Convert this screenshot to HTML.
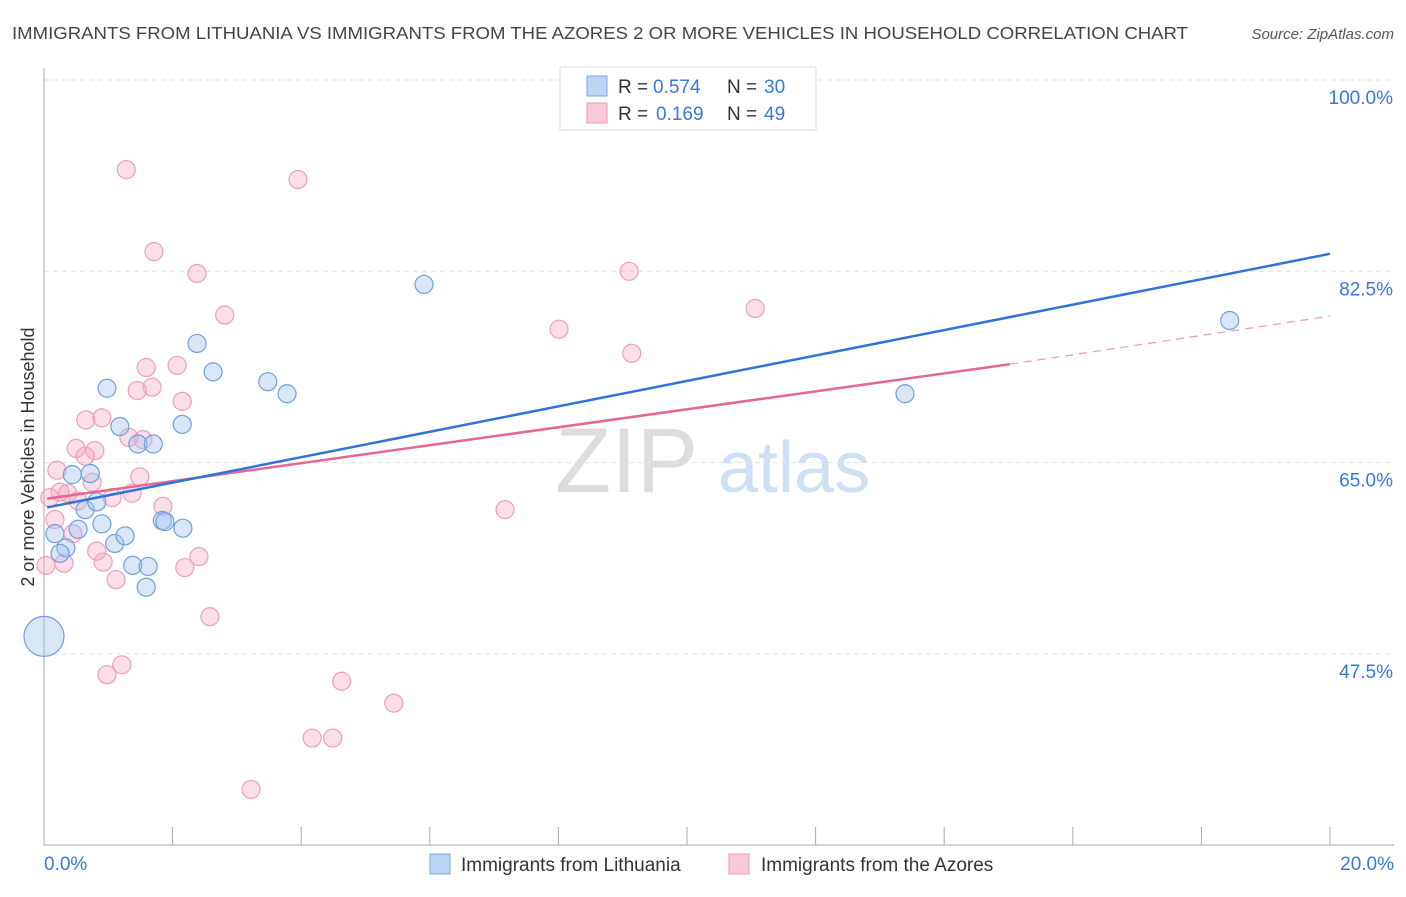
<!DOCTYPE html>
<html><head><meta charset="utf-8"><style>
body{margin:0;background:#fff;font-family:"Liberation Sans",sans-serif;}
svg text{font-family:"Liberation Sans",sans-serif;}
</style></head><body>
<svg id="chart" width="1406" height="892" xmlns="http://www.w3.org/2000/svg">
<text x="12" y="39" font-size="17.5" fill="#444" textLength="1176" lengthAdjust="spacingAndGlyphs">IMMIGRANTS FROM LITHUANIA VS IMMIGRANTS FROM THE AZORES 2 OR MORE VEHICLES IN HOUSEHOLD CORRELATION CHART</text>
<text x="1394" y="39" font-size="15" fill="#555" text-anchor="end" font-style="italic">Source: ZipAtlas.com</text>
<g>
<text x="555" y="492" font-size="92" fill="#ddd" font-family="Liberation Serif,serif">ZIP</text>
<text x="718" y="492" font-size="72" fill="#cfe0f5">atlas</text>
</g>
<g id="grid"></g>
<g id="axes"></g>
<g id="pts"></g>
<g id="trends"></g>
<text transform="translate(34,457) rotate(-90)" font-size="18" fill="#333" text-anchor="middle">2 or more Vehicles in Household</text>
<g>
<rect x="560" y="67" width="256" height="63" fill="#fff" stroke="#ddd"/>
<rect x="587" y="76" width="20" height="20" fill="#bcd5f5" stroke="#7aa8e6"/>
<rect x="587" y="103" width="20" height="20" fill="#f9c9d8" stroke="#ee9ab5"/>
<text x="618" y="93" font-size="19" fill="#333">R =</text>
<text x="653" y="93" font-size="19" fill="#3a78d6">0.574</text>
<text x="727" y="93" font-size="19" fill="#333">N =</text>
<text x="764" y="93" font-size="19" fill="#3a78d6">30</text>
<text x="618" y="120" font-size="19" fill="#333">R =</text>
<text x="656" y="120" font-size="19" fill="#3a78d6">0.169</text>
<text x="727" y="120" font-size="19" fill="#333">N =</text>
<text x="764" y="120" font-size="19" fill="#3a78d6">49</text>
</g>
<g>
<rect x="430" y="854" width="20" height="20" fill="#bcd5f5" stroke="#7aa8e6"/>
<text x="461" y="871" font-size="19" fill="#333">Immigrants from Lithuania</text>
<rect x="729" y="854" width="20" height="20" fill="#f9c9d8" stroke="#ee9ab5"/>
<text x="761" y="871" font-size="19" fill="#333">Immigrants from the Azores</text>
</g>
</svg>
<script>
const yTicks=[100,82.5,65,47.5];
const yTickLabels=["100.0%","82.5%","65.0%","47.5%"];
const xLabels=["0.0%","20.0%"];
const blueX=[0.17,0.34,0.25,0.44,0.72,0.64,0.82,0.90,0.53,0.98,1.18,1.10,1.26,1.38,1.46,1.70,1.62,1.59,1.84,1.88,2.16,2.15,2.38,2.63,3.48,3.78,5.91,13.39,18.44,0];
const blueY=[58.5,57.2,56.7,63.9,64.0,60.7,61.4,59.4,58.9,71.8,68.3,57.6,58.3,55.6,66.7,66.7,55.5,53.6,59.7,59.6,59.0,68.5,75.9,73.3,72.4,71.3,81.3,71.3,78.0,49.1];
const blueR=[9,9,9,9,9,9,9,9,9,9,9,9,9,9,9,9,9,9,9,9,9,9,9,9,9,9,9,9,9,20];
const pinkX=[1.28,3.95,1.71,2.38,2.81,8.01,9.10,11.06,9.14,1.59,2.07,1.68,1.45,2.15,0.65,0.90,0.50,0.79,0.64,1.32,1.54,0.20,0.75,1.49,0.25,0.37,1.06,1.37,0.53,1.85,0.09,0.17,0.45,7.17,0.82,0.92,0.31,0.03,1.12,2.19,2.41,2.58,0.98,1.21,4.63,5.44,4.17,4.49,3.22];
const pinkY=[91.8,90.9,84.3,82.3,78.5,77.2,82.5,79.1,75.0,73.7,73.9,71.9,71.6,70.6,68.9,69.1,66.3,66.1,65.6,67.3,67.1,64.3,63.2,63.7,62.3,62.2,61.8,62.2,61.5,61.0,61.8,59.8,58.5,60.7,56.9,55.9,55.8,55.6,54.3,55.4,56.4,50.9,45.6,46.5,45.0,43.0,39.8,39.8,35.1];
const blueTrend=[[0.05,60.9],[20,84.1]];
const pinkTrend=[[0.05,61.7],[15.02,74.0]];
const pinkTrendDash=[[15.02,74.0],[20,78.4]];
const NS="http://www.w3.org/2000/svg";
const X=v=>44+v/20*1286, Y=v=>80+(100-v)*191.3/17.5;
function mk(tag,parent,at){const e=document.createElementNS(NS,tag);for(const k in at)e.setAttribute(k,at[k]);document.getElementById(parent).appendChild(e);return e;}
yTicks.forEach((t,i)=>{
 let l=mk('line','grid',{x1:44,x2:1394,y1:Y(t),y2:Y(t),stroke:'#e2e2e2','stroke-dasharray':'5,4'});
 
 
 let tx=mk('text','axes',{x:1393,y:Y(t)+24,'font-size':19,fill:'#3a78d6','text-anchor':'end'});tx.textContent=yTickLabels[i];
 
 
});
mk('line','axes',{x1:44,x2:44,y1:68,y2:845,stroke:'#aaa'});
mk('line','axes',{x1:44,x2:1394,y1:845,y2:845,stroke:'#aaa'});
for(let i=0;i<=10;i++){let t=mk('line','axes',{x1:X(i*2),x2:X(i*2),y1:827,y2:845,stroke:'#aaa'});}
let a=mk('text','axes',{x:44,y:870,'font-size':19,fill:'#3a78d6'});a.textContent=xLabels[0];


let b=mk('text','axes',{x:1394,y:870,'font-size':19,fill:'#3a78d6','text-anchor':'end'});b.textContent=xLabels[1];


pinkX.forEach((v,i)=>{let c=mk('circle','pts',{cx:X(v),cy:Y(pinkY[i]),r:9,fill:'rgba(244,160,188,0.35)',stroke:'#eea0b8','stroke-width':1.2});
 
 });
blueX.forEach((v,i)=>{let c=mk('circle','pts',{cx:X(v),cy:Y(blueY[i]),r:blueR[i],fill:'rgba(160,196,240,0.4)',stroke:'#6fa0e0','stroke-width':1.2});
 
 });
function ln(d,col,dash,name,w){let l=mk('line','trends',{x1:X(d[0][0]),y1:Y(d[0][1]),x2:X(d[1][0]),y2:Y(d[1][1]),stroke:col,'stroke-width':w});if(dash)l.setAttribute('stroke-dasharray',dash);
 
 }
ln(pinkTrend,'#e4688f',null,'azores-trend-line',2.5);
ln(pinkTrendDash,'#eea0b8','8,6','azores-trend-extension',1.3);
ln(blueTrend,'#2f74d6',null,'lithuania-trend-line',2.5);
</script>
</body></html>
